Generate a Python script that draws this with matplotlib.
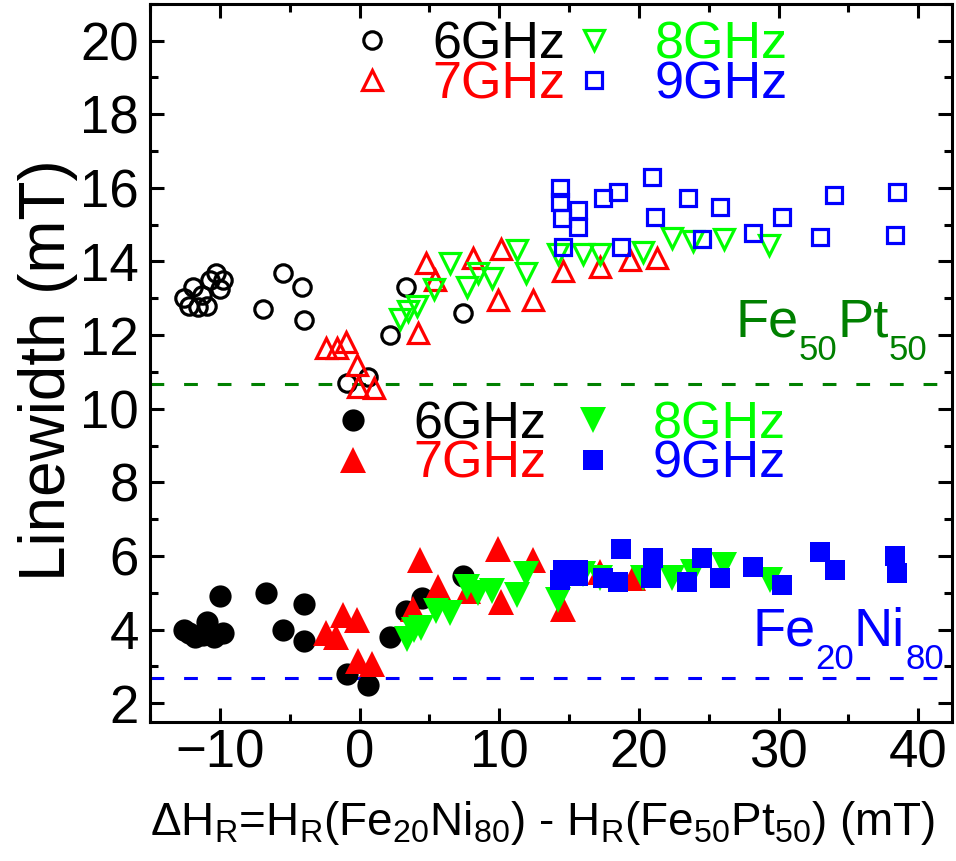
import matplotlib
matplotlib.use('Agg')
import matplotlib.pyplot as plt

plt.rcParams['font.family'] = ['Liberation Sans', 'DejaVu Sans']
plt.rcParams['mathtext.default'] = 'regular'

# Fe50Pt50 (open symbols) and Fe20Ni80 (filled symbols) linewidth vs resonance field offset
freqs = ['6GHz', '7GHz', '8GHz', '9GHz']
colors = ['black', 'red', '#00ff00', 'blue']

pt_6_x = [-12.6, -12.2, -11.9, -11.6, -11.3, -10.9, -10.7, -10.3, -10.0, -9.75,
          -6.9, -5.5, -4.1, -4.0, -0.9, 0.6, 2.2, 3.3, 7.4]
pt_6_y = [13.0, 12.8, 13.3, 12.75, 13.1, 12.8, 13.5, 13.7, 13.25, 13.5,
          12.7, 13.7, 13.3, 12.4, 10.7, 10.85, 12.0, 13.3, 12.6]
pt_7_x = [-2.4, -1.6, -1.0, -0.2, -0.1, 1.0, 4.2, 4.75, 5.4, 8.1,
          10.1, 9.9, 12.4, 14.6, 17.2, 19.4, 21.3]
pt_7_y = [11.65, 11.65, 11.8, 11.2, 10.6, 10.55, 12.05, 13.95, 13.5, 14.1,
          14.35, 12.95, 12.95, 13.75, 13.85, 14.05, 14.1]
pt_8_x = [2.9, 3.5, 4.1, 5.35, 6.5, 7.7, 8.5, 9.5, 11.3, 11.9,
          14.2, 16.0, 17.2, 20.3, 22.4, 23.9, 26.1, 29.3]
pt_8_y = [12.45, 12.65, 12.8, 13.25, 13.95, 13.3, 13.7, 13.55, 14.3, 13.7,
          14.2, 14.2, 14.2, 14.25, 14.65, 14.55, 14.6, 14.45]
pt_9_x = [14.37, 14.37, 14.5, 14.6, 15.66, 15.66, 17.4, 18.5, 18.7, 20.93,
          21.15, 23.5, 24.5, 25.8, 28.2, 30.25, 33.0, 34.0, 38.35, 38.5]
pt_9_y = [16.0, 15.63, 15.19, 14.4, 15.4, 14.94, 15.73, 15.9, 14.4, 16.3,
          15.21, 15.73, 14.6, 15.49, 14.78, 15.21, 14.67, 15.81, 14.73, 15.9]

ni_6_x = [-12.6, -12.2, -11.8, -11.2, -10.9, -10.4, -9.8, -10.0,
          -6.7, -5.5, -4.0, -4.0, -0.9, 0.6, 2.2, 3.3, 4.5, 7.4]
ni_6_y = [4.0, 3.9, 3.8, 3.85, 4.2, 3.8, 3.9, 4.9,
          5.0, 4.0, 4.7, 3.7, 2.8, 2.5, 3.8, 4.5, 4.85, 5.45]
ni_7_x = [-2.4, -1.7, -1.2, -0.2, -0.1, 0.9, 3.8, 4.3, 5.6, 7.8,
          9.9, 10.1, 12.4, 14.6, 17.2, 19.6]
ni_7_y = [3.9, 3.8, 4.4, 4.25, 3.15, 3.05, 4.55, 5.9, 5.15, 5.05,
          6.2, 4.75, 5.9, 4.55, 5.55, 5.4]
ni_8_x = [3.4, 3.9, 4.4, 5.5, 6.5, 7.7, 8.5, 9.5, 11.3, 11.9,
          14.2, 16.0, 17.2, 20.3, 22.4, 23.9, 26.1, 29.4]
ni_8_y = [3.75, 4.0, 4.05, 4.5, 4.45, 5.15, 5.0, 5.05, 4.95, 5.5,
          4.8, 5.5, 5.4, 5.4, 5.4, 5.55, 5.75, 5.35]
ni_9_x = [14.37, 14.6, 15.66, 15.66, 17.4, 18.5, 18.7, 20.9, 21.0, 23.45,
          24.5, 25.8, 28.2, 30.25, 33.0, 34.05, 38.35, 38.5]
ni_9_y = [5.34, 5.61, 5.61, 5.45, 5.39, 5.29, 6.2, 5.39, 5.94, 5.29,
          5.94, 5.39, 5.69, 5.2, 6.1, 5.61, 6.0, 5.53]

# reference linewidths of the single layers
fept_ref = 10.67
feni_ref = 2.67


def chem_label(ax, x, y, parts, color, size=39, subsize=25, drop=13.5):
    # draw e.g. Fe_50 Pt_50 piece by piece so the subscripts sit low like Origin
    prev = ax.text(x, y, parts[0], color=color, fontsize=size, ha='left',
                   va='baseline', transform=ax.transAxes)
    for i, p in enumerate(parts[1:]):
        is_sub = (i % 2 == 0)
        prev = ax.annotate(p, xy=(1, 0), xycoords=prev,
                           xytext=(0, -drop if is_sub else drop),
                           textcoords='offset points', ha='left', va='bottom',
                           color=color, fontsize=subsize if is_sub else size)


fig = plt.figure(figsize=(9.56, 8.61), dpi=100)
ax = fig.add_axes([0.157, 0.162, 0.8385, 0.8335])

open_sets = [(pt_6_x, pt_6_y, 'o', 12.5), (pt_7_x, pt_7_y, '^', 14.5),
             (pt_8_x, pt_8_y, 'v', 14.5), (pt_9_x, pt_9_y, 's', 11.5)]
fill_sets = [(ni_6_x, ni_6_y, 'o', 16), (ni_7_x, ni_7_y, '^', 19),
             (ni_8_x, ni_8_y, 'v', 19), (ni_9_x, ni_9_y, 's', 15)]

open_handles = []
for (x, y, m, ms), c, lab in zip(open_sets, colors, freqs):
    h, = ax.plot(x, y, m, ls='none', ms=ms, mfc='none', mec=c, mew=2.3, label=lab)
    open_handles.append(h)

fill_handles = []
for (x, y, m, ms), c, lab in zip(fill_sets, colors, freqs):
    h, = ax.plot(x, y, m, ls='none', ms=ms, mfc=c, mec=c, mew=0, label=lab)
    fill_handles.append(h)

ax.axhline(fept_ref, color='#008000', lw=2.2, dashes=(4.5, 6.5), zorder=1)
ax.axhline(feni_ref, color='blue', lw=2.2, dashes=(4.5, 6.5), zorder=1)

leg_kw = dict(ncol=2, frameon=False, fontsize=37.5, handlelength=1.0,
              handletextpad=0.65, labelspacing=-0.18,
              borderpad=0, loc='center', labelcolor=colors)
leg1 = ax.legend(handles=open_handles, bbox_to_anchor=(0.52, 0.915),
                 columnspacing=0.06, **leg_kw)
ax.add_artist(leg1)
ax.legend(handles=fill_handles, bbox_to_anchor=(0.507, 0.386),
          columnspacing=0.39, **leg_kw)

chem_label(ax, 0.73, 0.536, ['Fe', '50', 'Pt', '50'], '#008000')
chem_label(ax, 0.751, 0.1055, ['Fe', '20', 'Ni', '80'], 'blue')

ax.set_xlim(-15, 42.4)
ax.set_ylim(1.5, 21)
ax.set_xticks([-10, 0, 10, 20, 30, 40])
ax.set_xticks(range(-15, 45, 5), minor=True)
ax.set_yticks(range(2, 21, 2))
ax.set_yticks(range(2, 22), minor=True)

for s in ax.spines.values():
    s.set_linewidth(2.2)
ax.tick_params(which='both', direction='in', top=True, right=True, width=2.2)
ax.tick_params(which='major', length=10, labelsize=38)
ax.tick_params(which='minor', length=5.5)
ax.tick_params(axis='x', pad=5)
ax.tick_params(axis='y', pad=8)

ax.set_xlabel('ΔH$_R$=H$_R$(Fe$_{20}$Ni$_{80}$) - H$_R$(Fe$_{50}$Pt$_{50}$) (mT)', fontsize=33)
ax.set_ylabel('Linewidth (mT)', fontsize=46)
ax.xaxis.set_label_coords(0.49, -0.108)
ax.yaxis.set_label_coords(-0.09, 0.49)

fig.savefig('out.png', dpi=100)
